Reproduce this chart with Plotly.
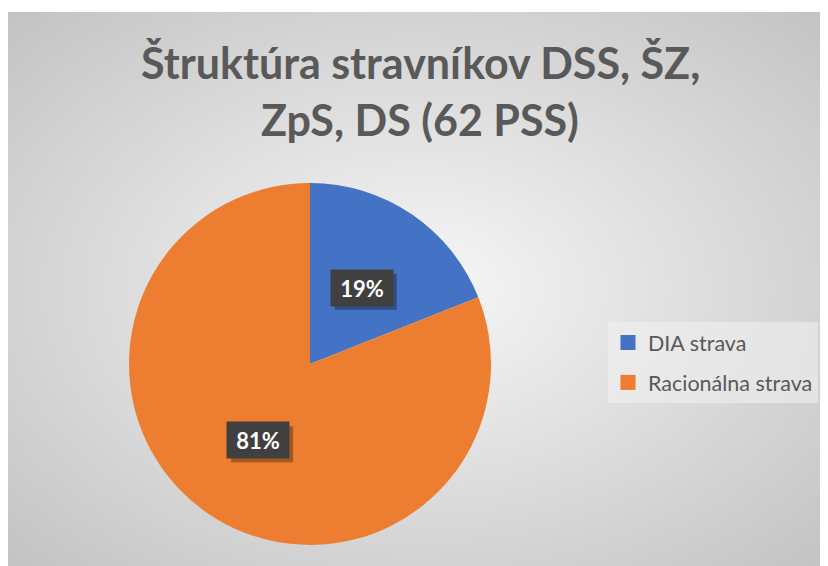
import base64, math
import plotly.graph_objects as go

# ---- data ----
categories = ["DIA strava", "Racionálna strava"]
values = [19, 81]
colors = ["#4472C4", "#ED7D31"]
title_lines = ["Štruktúra stravníkov DSS, ŠZ,", "ZpS, DS (62 PSS)"]

W, H = 828, 566
OFF = 8  # page body margin
cx_px, cy_px, r_px = 310 - OFF, 364 - OFF, 181

fig = go.Figure()
fig.add_trace(go.Pie(
    labels=categories, values=values, sort=False, direction="clockwise",
    rotation=0, marker=dict(colors=colors, line=dict(width=0)),
    textinfo="none", hoverinfo="label+percent", showlegend=False,
    domain=dict(x=[(cx_px - r_px) / W, (cx_px + r_px) / W],
                y=[1 - (cy_px + r_px) / H, 1 - (cy_px - r_px) / H]),
))

# legend entries via dummy traces (for vertical spacing)
for i, (c, col) in enumerate(zip(categories, colors)):
    fig.add_trace(go.Scatter(x=[None], y=[None], mode="markers", name=c,
                             legendgroup=f"g{i}",
                             marker=dict(symbol="square", size=15, color=col)))

# percentage labels positioned from the data
total = sum(values)
cum = 0
annotations = []
shapes = []
bw, bh = 62, 36
for v in values:
    mid = (cum + v / 2) / total * 2 * math.pi
    cum += v
    rr = 0.51 * r_px
    x = cx_px + rr * math.sin(mid)
    y = cy_px - rr * math.cos(mid)
    txt = f"<b>{round(v / total * 100)}%</b>"
    sx, sy = x + 4, y + 4
    shapes.append(dict(type="rect", xref="paper", yref="paper", layer="above",
                       x0=(sx - bw / 2) / W, x1=(sx + bw / 2) / W,
                       y0=1 - (sy + bh / 2) / H, y1=1 - (sy - bh / 2) / H,
                       fillcolor="rgba(0,0,0,0.3)", line=dict(width=0)))
    annotations.append(dict(x=x / W, y=1 - y / H, xref="paper", yref="paper",
                            xanchor="center", yanchor="middle",
                            text=txt, showarrow=False, bgcolor="#404040",
                            width=bw - 14, height=bh - 14,
                            borderpad=7, font=dict(family="Lato", size=22, color="white")))

for i, line in enumerate(title_lines):
    annotations.append(dict(x=(420 - OFF) / W, y=1 - (62 - OFF + 58 * i) / H, xref="paper", yref="paper",
                            xanchor="center", text=f"<b>{line}</b>", showarrow=False, yanchor="middle",
                            font=dict(family="Lato", size=43, color="#595959")))

svg = ("<svg xmlns='http://www.w3.org/2000/svg' width='820' height='554'>"
       "<defs><radialGradient id='g' cx='50%' cy='50%' r='72%'>"
       "<stop offset='0' stop-color='#f7f7f7'/><stop offset='1' stop-color='#c2c2c2'/>"
       "</radialGradient></defs><rect width='820' height='554' fill='url(#g)'/></svg>")
src = "data:image/svg+xml;base64," + base64.b64encode(svg.encode()).decode()

fig.update_layout(
    width=W, height=H, margin=dict(l=0, r=0, t=0, b=0),
    paper_bgcolor="white", plot_bgcolor="rgba(0,0,0,0)",
    xaxis=dict(visible=False), yaxis=dict(visible=False),
    images=[dict(source=src, xref="paper", yref="paper", x=0, y=1 - 4 / H,
                 sizex=820 / W, sizey=554 / H, sizing="stretch", layer="below",
                 xanchor="left", yanchor="top")],
    annotations=annotations,
    shapes=shapes,
    showlegend=True,
    legend=dict(x=(608 - OFF) / W, y=1 - (322 - OFF) / H, xanchor="left", yanchor="top",
                bgcolor="rgba(240,240,240,0.6)", tracegroupgap=9,
                font=dict(family="Lato", size=21.5, color="#595959"),
                itemclick=False),
)

fig.write_html("out.html")
